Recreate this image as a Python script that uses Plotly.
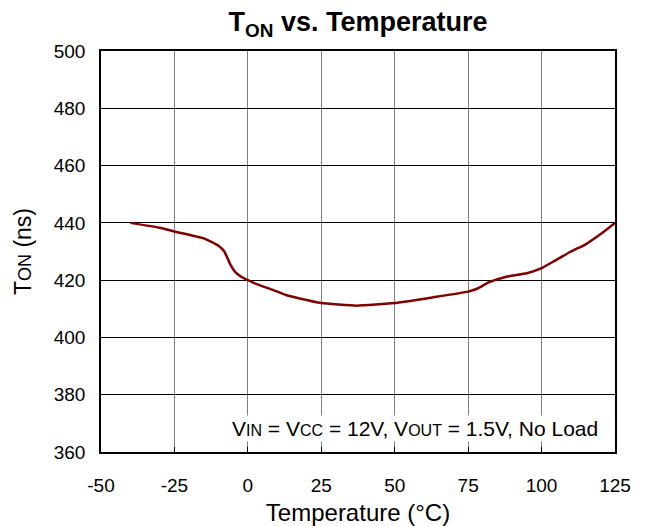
import plotly.graph_objects as go

temperature = [-40, -30, -25, -15, -10, -8, -6, -4, -2, 0, 3, 8, 13, 18, 25, 37, 50, 63, 75, 78, 82, 88, 95, 100, 104, 110, 115, 120, 125]
ton_ns = [440, 438.3, 437, 434.6, 432, 430, 425.5, 422.5, 421, 420, 418.6, 416.8, 414.8, 413.5, 412, 411.1, 412, 414, 416, 417, 419.2, 421.2, 422.4, 424.2, 426.5, 430, 432.5, 436, 440]

x_ticks = [-50, -25, 0, 25, 50, 75, 100, 125]
x_tick_text = ["-50", "-25", "0", "25", "50", "75", "100", "125"]
y_ticks = [360, 380, 400, 420, 440, 460, 480, 500]

FONT = "Arial, Liberation Sans, sans-serif"

fig = go.Figure()
fig.add_trace(go.Scatter(x=temperature, y=ton_ns, mode="lines",
                         line=dict(color="#800000", width=2.5, shape="spline", smoothing=0.4),
                         showlegend=False, hoverinfo="skip"))

L, R, T, B = 101, 35, 51, 74
fig.update_layout(
    width=650, height=526,
    margin=dict(l=L, r=R, t=T, b=B, autoexpand=False),
    paper_bgcolor="white", plot_bgcolor="white",
    font=dict(family=FONT, color="black", size=19),
    title=dict(text="<b>T<sub>ON</sub> vs. Temperature</b>",
               x=(L + 650 - R) / 2 / 650, xanchor="center",
               y=1 - 22 / 526, yanchor="middle", font=dict(size=27, family=FONT)),
    xaxis=dict(range=[-50, 125], tickvals=x_ticks, ticktext=x_tick_text, automargin=False,
               showgrid=True, gridcolor="#7f7f7f", gridwidth=1,
               showline=True, linecolor="black", linewidth=1.5, mirror=True, zeroline=False,
               ticks="inside", ticklen=5, tickcolor="black", ticklabelstandoff=15,
               title=dict(text="Temperature (°C)", font=dict(size=24), standoff=12),
               tickfont=dict(size=19)),
    yaxis=dict(range=[360, 500], tickvals=y_ticks, automargin=False,
               showgrid=True, gridcolor="black", gridwidth=1,
               showline=True, linecolor="black", linewidth=1.5, mirror=True, zeroline=False,
               ticks="inside", ticklen=5, tickcolor="black", ticklabelstandoff=10,
               title=dict(text="T<span style='font-size:18px'>ON</span> (ns)", font=dict(size=23), standoff=16),
               tickfont=dict(size=19)),
)

fig.add_annotation(
    xref="paper", yref="paper", x=(600 - L) / (650 - L - R), y=(452 - 428) / (526 - T - B),
    xanchor="right", yanchor="middle",
    showarrow=False, bgcolor="white",
    text="V<span style='font-size:16px'>IN</span> = V<span style='font-size:16px'>CC</span> = 12V, "
         "V<span style='font-size:16px'>OUT</span> = 1.5V, No Load",
    font=dict(size=21, family=FONT),
)

fig.write_html("out.html")
